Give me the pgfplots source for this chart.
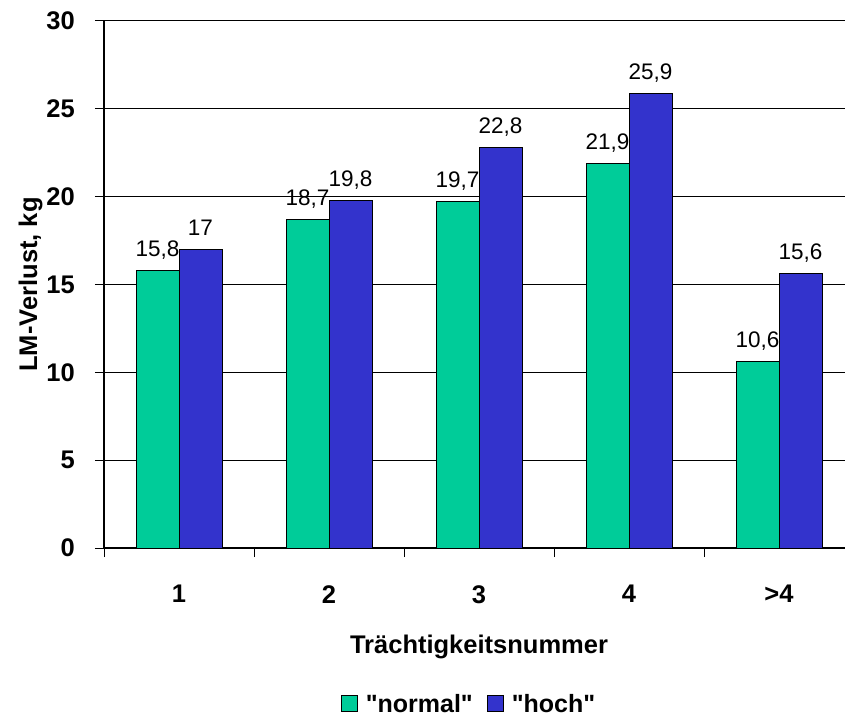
\documentclass[border=0pt]{standalone}
\usepackage{pgfplots}
\pgfplotsset{compat=1.18}
\usepackage{fontspec}
\setmainfont{Liberation Sans}
\definecolor{cgreen}{RGB}{0,204,153}
\definecolor{cblue}{RGB}{51,51,204}
\begin{document}
\begin{tikzpicture}
\useasboundingbox (0,0) rectangle (845pt,717pt);
\begin{axis}[
  at={(104pt,169pt)}, anchor=south west,
  scale only axis, width=750pt, height=527pt,
  /pgf/number format/assume math mode=true,
  /pgf/number format/use comma,
  ybar=0pt, bar width=43pt,
  xmin=0.5, xmax=5.5, ymin=0, ymax=30,
  xtick={0.5,1.5,...,5.5}, xticklabels={},
  extra x ticks={1,2,3,4,5},
  extra x tick labels={1,2,3,4,{>4}},
  extra x tick style={major tick length=0pt},
  ytick={0,5,...,30},
  ymajorgrids,
  major grid style={black, line width=1pt},
  axis x line*=bottom, axis y line*=left,
  axis line style={line width=1.3pt, -},
  tick align=outside, major tick length=9pt,
  tick style={black, line width=1pt},
  tick label style={font=\fontsize{25.5}{30}\selectfont\bfseries},
  xticklabel style={inner sep=0pt, yshift=-37pt},
  yticklabel style={inner sep=0pt, xshift=-20pt},
  xlabel={Trächtigkeitsnummer},
  xlabel style={at={(axis description cs:0.5,-0.2011)}, anchor=base, font=\fontsize{25.5}{30}\selectfont\bfseries},
  ylabel={LM-Verlust, kg},
  ylabel style={at={(axis description cs:-0.0893,0.5)}, anchor=base, font=\fontsize{25.5}{30}\selectfont\bfseries},
  nodes near coords,
  nodes near coords style={font=\fontsize{22.5}{26}\selectfont, inner sep=0pt, anchor=base, yshift=14pt},
  legend style={draw=none, fill=none, at={(axis description cs:0.4867,-0.2960)}, anchor=center,
    legend columns=2, font=\fontsize{25}{30}\selectfont\bfseries,
    /tikz/every even column/.append style={column sep=12pt},
    /tikz/every odd column/.append style={column sep=6pt}},
  legend image code/.code={\draw[#1, draw=black, line width=1pt] (0pt,-8pt) rectangle (16pt,8pt);},
]
\addplot[fill=cgreen, draw=black, line width=1pt] coordinates {(1,15.8) (2,18.7) (3,19.7) (4,21.9) (5,10.6)};
\addplot[fill=cblue, draw=black, line width=1pt] coordinates {(1,17) (2,19.8) (3,22.8) (4,25.9) (5,15.6)};
\addlegendentry{\textquotedbl normal\textquotedbl}
\addlegendentry{\textquotedbl hoch\textquotedbl}
\end{axis}
\end{tikzpicture}
\end{document}
